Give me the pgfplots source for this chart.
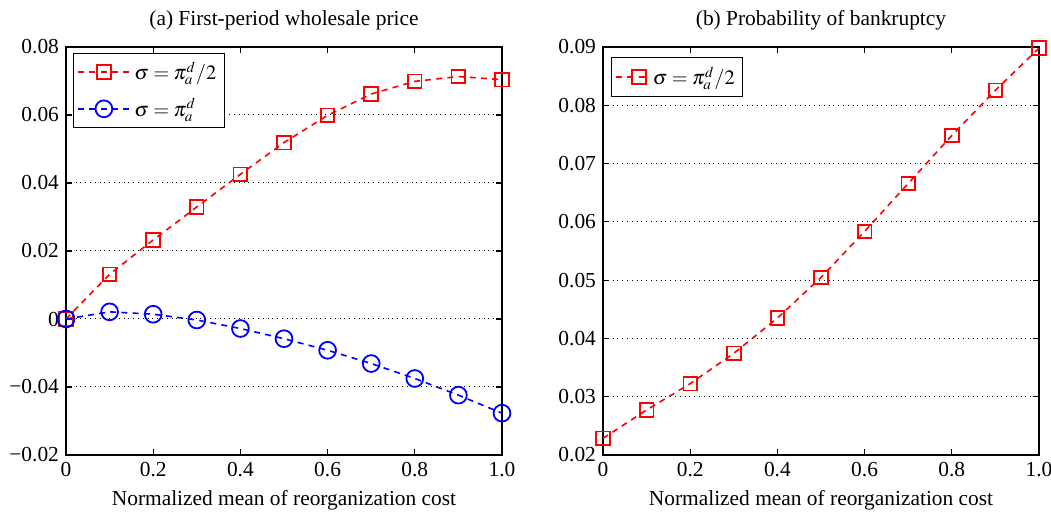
\documentclass[border=0pt]{standalone}
\usepackage{mathptmx}
\usepackage{fontspec}
\setmainfont{Liberation Serif}
\usepackage{pgfplots}
\pgfplotsset{compat=1.18}
\begin{document}
\begin{tikzpicture}
\useasboundingbox (-33pt,-28.5pt) rectangle (492.5pt,227.5pt);
\pgfplotsset{
  myaxis/.style={
    scale only axis, width=218pt, height=204pt,
    xmin=0, xmax=1,
    xtick={0,0.2,0.4,0.6,0.8,1.0},
    xticklabels={0,0.2,0.4,0.6,0.8,1.0},
    scaled y ticks=false, scaled x ticks=false,
    tick align=inside, major tick length=3pt,
    axis line style={line width=0.9pt},
    every tick/.style={black, line width=0.6pt},
    ymajorgrids, major grid style={black, dotted, line width=0.5pt},
    xlabel={Normalized mean of reorganization cost},
    xlabel style={yshift=0pt},
    title style={yshift=-1pt},
    tick label style={font=\fontsize{10.7}{12.8}\selectfont},
    label style={font=\fontsize{10.7}{12.8}\selectfont},
    every axis title/.append style={font=\fontsize{10.7}{12.8}\selectfont},
    legend style={anchor=north west, draw=black, line width=0.5pt,
      font=\fontsize{10.2}{12}\selectfont, row sep=4pt, inner xsep=2pt, inner ysep=2pt},
    legend cell align=left,
    /pgf/number format/assume math mode=true,
  },
  redline/.style={red, line width=0.8pt, dash pattern=on 3pt off 2.6pt, mark=square, mark size=3.4pt, mark options={solid, line width=0.9pt}},
  blueline/.style={blue, line width=0.8pt, dash pattern=on 3pt off 2.6pt, mark=o, mark size=4.2pt, mark options={solid, line width=0.9pt}},
}
\begin{axis}[myaxis, at={(0pt,0pt)}, anchor=south west,
  title={(a) First-period wholesale price},
  ymin=-0.04, ymax=0.08,
  ytick={-0.04,-0.02,0,0.02,0.04,0.06,0.08},
  yticklabels={−0.02,−0.04,0,0.02,0.04,0.06,0.08},
  legend style={at={(0.016,0.985)}},
  legend image code/.code={\draw[mark repeat=2,mark phase=2] plot coordinates {(0cm,0cm) (0.45cm,0cm) (0.9cm,0cm)};},
]
\addplot[redline] coordinates {
(0,0) (0.1,0.01315) (0.2,0.02324) (0.3,0.03294) (0.4,0.04256) (0.5,0.05188)
(0.6,0.0599) (0.7,0.06618) (0.8,0.0699) (0.9,0.0713) (1.0,0.0704)};
\addlegendentry{$\sigma=\pi_a^d/2$}
\addplot[blueline] coordinates {
(0,0) (0.1,0.0021) (0.2,0.0014) (0.3,-0.0003) (0.4,-0.0028) (0.5,-0.0058)
(0.6,-0.0092) (0.7,-0.0131) (0.8,-0.0175) (0.9,-0.0224) (1.0,-0.0277)};
\addlegendentry{$\sigma=\pi_a^d$}
\end{axis}
\begin{axis}[myaxis, at={(268.5pt,0pt)}, anchor=south west,
  title={(b) Probability of bankruptcy},
  ymin=0.02, ymax=0.09,
  ytick={0.02,0.03,0.04,0.05,0.06,0.07,0.08,0.09},
  yticklabels={0.02,0.03,0.04,0.05,0.06,0.07,0.08,0.09},
  legend style={at={(0.018,0.975)}, inner ysep=2.5pt},
  legend image code/.code={\draw[mark repeat=2,mark phase=2] plot coordinates {(0cm,0cm) (0.4cm,0cm) (0.56cm,0cm)};},
]
\addplot[redline] coordinates {
(0,0.02286) (0.1,0.02772) (0.2,0.03224) (0.3,0.03744) (0.4,0.04349) (0.5,0.05046)
(0.6,0.05835) (0.7,0.06658) (0.8,0.07481) (0.9,0.08257) (1.0,0.0898)};
\addlegendentry{$\sigma=\pi_a^d/2$}
\end{axis}
\end{tikzpicture}
\end{document}
